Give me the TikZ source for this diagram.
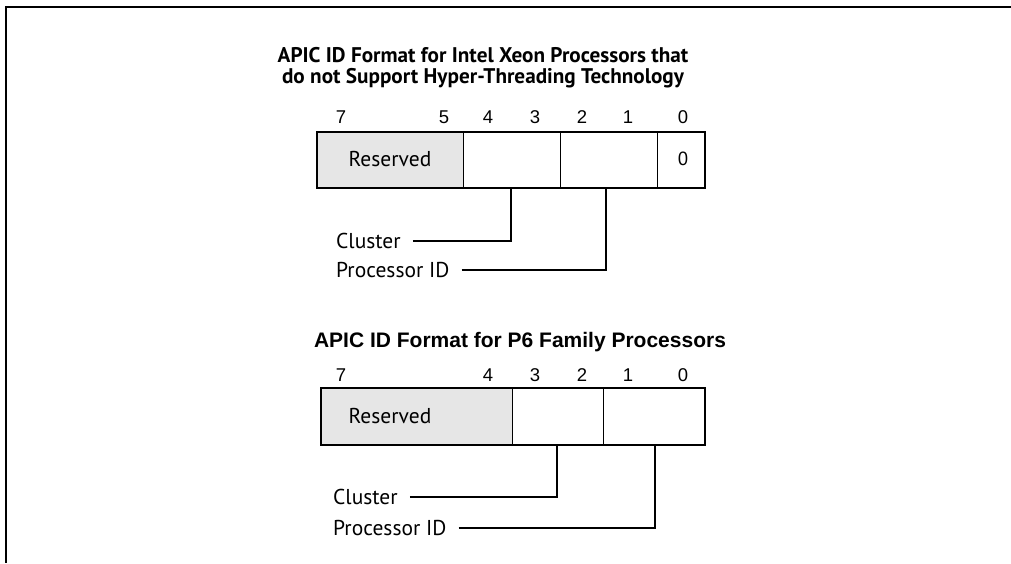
\documentclass[tikz,border=0pt]{standalone}
\usepackage{fontspec}
\setmainfont{Liberation Sans}
\newfontfamily\clearfont{PT Sans}
\usetikzlibrary{positioning}
\definecolor{resgray}{HTML}{E6E6E6}

\begin{document}
\begin{tikzpicture}[x=1pt,y=-1pt,
    bitnum/.style={font=\fontsize{18.5}{22}\selectfont, inner sep=0pt},
    lbl/.style={font=\clearfont\fontsize{21.5}{24}\selectfont, anchor=west, inner sep=0pt},
    lead/.style={line width=2pt},
    divider/.style={line width=1pt},
    regbox/.style={line width=2.3pt}]
  \useasboundingbox (0,0) rectangle (1011,563);
  \draw[line width=2.5pt] (1011,7) -- (6,7) -- (6,563);

  % Xeon, no Hyper-Threading
  \node[font=\clearfont\bfseries\fontsize{21.2}{21}\selectfont, align=center] (xtitle) at (483,68)
    {APIC ID Format for Intel Xeon Processors that\\do not Support Hyper-Threading Technology};
  \foreach \b/\x in {7/341,5/444,4/488,3/535,2/582,1/628,0/683}
    \node[bitnum] (xbit\b) at (\x,117) {\b};
  \fill[resgray] (317,132) rectangle (463,188);
  \foreach \x in {463,560,657}
    \draw[divider] (\x,132) -- (\x,188);
  \draw[regbox] (317,132) rectangle (705,188);
  \node[lbl, anchor=center] (xres) at (390,159) {Reserved};
  \node[bitnum, font=\clearfont\fontsize{19}{22}\selectfont] (xzero) at (683,159) {0};
  \coordinate (xclbit) at (511,188);
  \coordinate (xpidbit) at (606,188);
  \node[lbl] (xcl) at (336,241) {Cluster};
  \node[lbl] (xpid) at (336,270) {Processor ID};
  \draw[lead] ([xshift=12pt]xcl.east) -| (xclbit);
  \draw[lead] ([xshift=12pt]xpid.east) -| (xpidbit);

  % P6 family
  \node[font=\bfseries\fontsize{21}{24}\selectfont] (ptitle) at (520,342)
    {APIC ID Format for P6 Family Processors};
  \foreach \b/\x in {7/341,4/488,3/535,2/582,1/628,0/683}
    \node[bitnum] (pbit\b) at (\x,375) {\b};
  \fill[resgray] (321,388) rectangle (512,445);
  \foreach \x in {512,603}
    \draw[divider] (\x,388) -- (\x,445);
  \draw[regbox] (321,388) rectangle (705,445);
  \node[lbl, anchor=center] (pres) at (390,416) {Reserved};
  \coordinate (pclbit) at (557,445);
  \coordinate (ppidbit) at (655,445);
  \node[lbl] (pcl) at (333,497) {Cluster};
  \node[lbl] (ppid) at (333,528) {Processor ID};
  \draw[lead] ([xshift=12pt]pcl.east) -| (pclbit);
  \draw[lead] ([xshift=12pt]ppid.east) -| (ppidbit);
\end{tikzpicture}
\end{document}
